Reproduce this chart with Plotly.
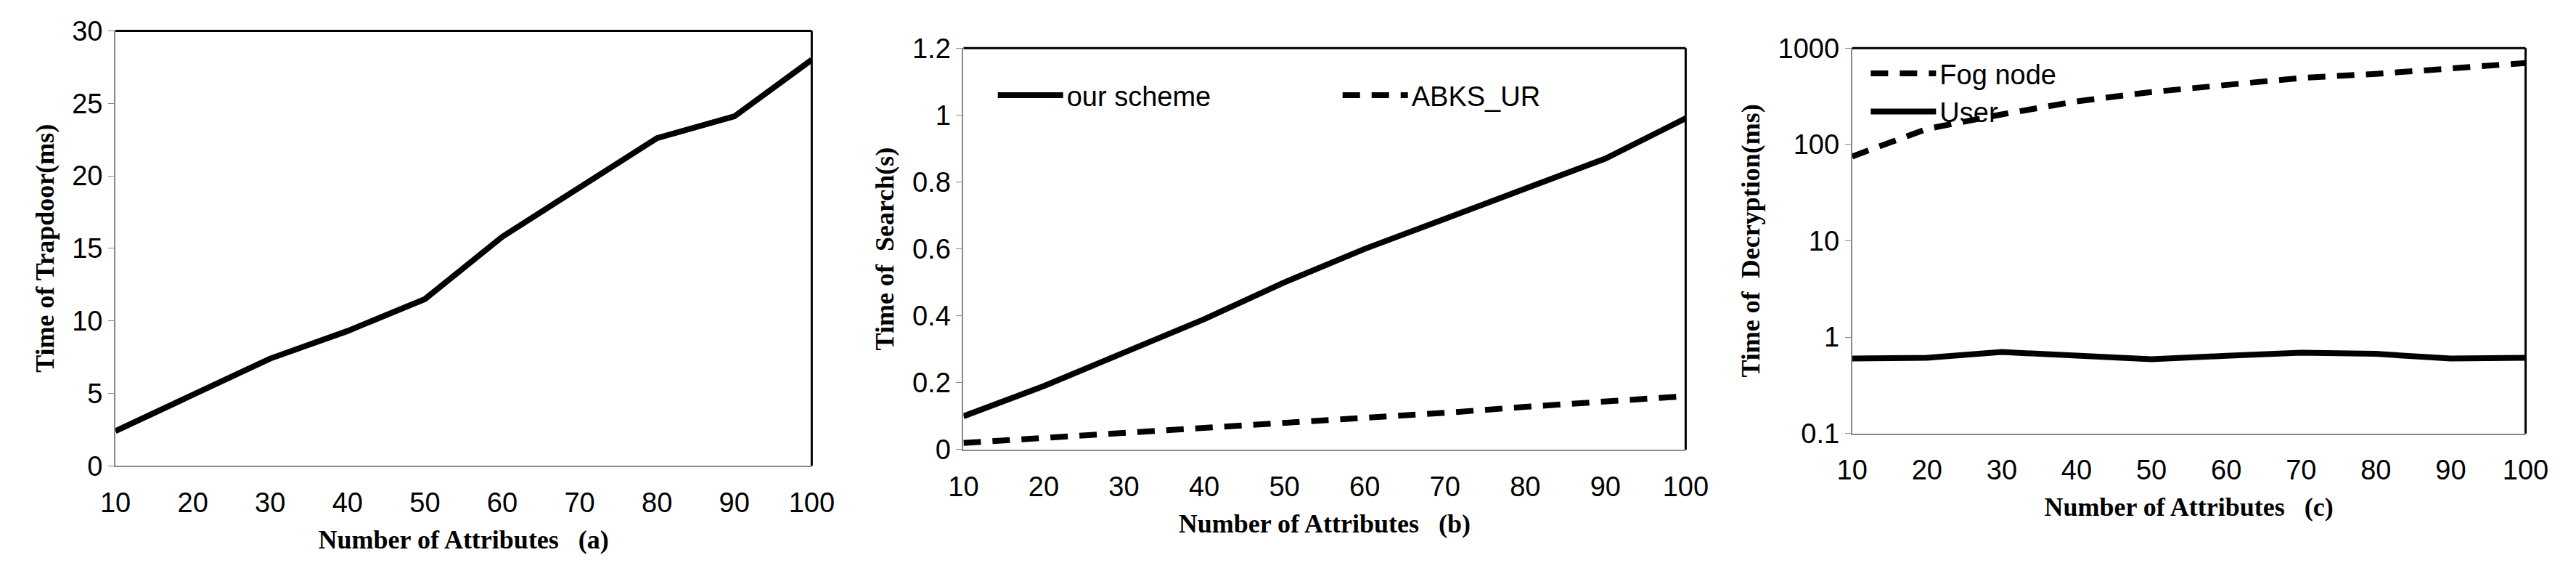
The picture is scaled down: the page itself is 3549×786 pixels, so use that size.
import plotly.graph_objects as go

attrs = [10, 20, 30, 40, 50, 60, 70, 80, 90, 100]
trapdoor_ms = [2.4, 4.9, 7.4, 9.3, 11.5, 15.8, 19.2, 22.6, 24.1, 28.0]
search_ours = [0.10, 0.19, 0.29, 0.39, 0.50, 0.60, 0.69, 0.78, 0.87, 0.99]
search_abks = [0.02, 0.035, 0.048, 0.065, 0.078, 0.095, 0.11, 0.128, 0.145, 0.16]
dec_fog = [75, 145, 205, 280, 350, 420, 490, 540, 620, 700]
dec_user = [0.60, 0.61, 0.70, 0.65, 0.59, 0.64, 0.69, 0.67, 0.60, 0.61]

TICKF = dict(family="Liberation Sans Narrow, Arial Narrow, sans-serif", size=38, color="black")
TITF = dict(family="Liberation Serif, Times New Roman, serif", size=36, color="black")
LEGF = dict(family="Liberation Sans Narrow, Arial Narrow, sans-serif", size=38, color="black")
LW = 8
DASH = "24px,16px"

fig = go.Figure()
fig.add_trace(go.Scatter(x=attrs, y=trapdoor_ms, mode="lines", line=dict(color="black", width=LW),
                         xaxis="x", yaxis="y", showlegend=False))
fig.add_trace(go.Scatter(x=attrs, y=search_ours, mode="lines", name="our scheme",
                         line=dict(color="black", width=LW), xaxis="x2", yaxis="y2", legend="legend"))
fig.add_trace(go.Scatter(x=attrs, y=search_abks, mode="lines", name="ABKS_UR",
                         line=dict(color="black", width=LW, dash=DASH), xaxis="x2", yaxis="y2", legend="legend"))
fig.add_trace(go.Scatter(x=attrs, y=dec_fog, mode="lines", name="Fog node",
                         line=dict(color="black", width=LW, dash=DASH), xaxis="x3", yaxis="y3", legend="legend2"))
fig.add_trace(go.Scatter(x=attrs, y=dec_user, mode="lines", name="User",
                         line=dict(color="black", width=LW), xaxis="x3", yaxis="y3", legend="legend2"))

def xax(dom, anchor, letter):
    return dict(domain=dom, anchor=anchor, range=[10, 100], tickvals=attrs, showgrid=False,
                showline=True, linecolor="#888888", linewidth=2, ticks="", zeroline=False,
                tickfont=TICKF, ticklabelstandoff=16,
                title=dict(text=f"<b>Number of Attributes   ({letter})</b>", font=TITF, standoff=18))

def yax(dom, anchor, **kw):
    d = dict(domain=dom, anchor=anchor, showgrid=False, showline=True, linecolor="#888888",
             linewidth=2, ticks="outside", ticklen=8, tickcolor="#888888", zeroline=False,
             tickfont=TICKF)
    d.update(kw)
    return d

fig.update_layout(
    width=3549, height=786, margin=dict(l=0, r=0, t=0, b=0),
    plot_bgcolor="white", paper_bgcolor="white",
    xaxis=xax([0.0372, 0.3116], "y", "a"),
    yaxis=yax([0.177, 0.982], "x", range=[0, 30], tickvals=[0, 5, 10, 15, 20, 25, 30],
              title=dict(text="<b>Time of Trapdoor(ms)</b>", font=TITF, standoff=14)),
    xaxis2=xax([0.3714, 0.656], "y2", "b"),
    yaxis2=yax([0.207, 0.950], "x2", range=[0, 1.2], tickvals=[0, 0.2, 0.4, 0.6, 0.8, 1, 1.2],
               ticktext=["0", "0.2", "0.4", "0.6", "0.8", "1", "1.2"],
               title=dict(text="<b>Time of  Search(s)</b>", font=TITF, standoff=14)),
    xaxis3=xax([0.7216, 0.987], "y3", "c"),
    yaxis3=yax([0.237, 0.950], "x3", type="log", range=[-1, 3], tickvals=[0.1, 1, 10, 100, 1000],
               ticktext=["0.1", "1", "10", "100", "1000"],
               title=dict(text="<b>Time of  Decryption(ms)</b>", font=TITF, standoff=14)),
    legend=dict(x=0.3835, y=0.905, xanchor="left", yanchor="top", orientation="h",
                font=LEGF, bgcolor="rgba(0,0,0,0)", itemwidth=90, entrywidth=370),
    legend2=dict(x=0.7275, y=0.945, xanchor="left", yanchor="top", orientation="v",
                 font=LEGF, bgcolor="rgba(0,0,0,0)", itemwidth=90, tracegroupgap=6),
)

for xr, yr in [("x", "y"), ("x2", "y2"), ("x3", "y3")]:
    fig.add_shape(type="line", xref=f"{xr} domain", yref=f"{yr} domain", x0=0, x1=1, y0=1, y1=1,
                  line=dict(color="black", width=3))
    fig.add_shape(type="line", xref=f"{xr} domain", yref=f"{yr} domain", x0=1, x1=1, y0=0, y1=1,
                  line=dict(color="black", width=3))

fig.write_html("out.html")
